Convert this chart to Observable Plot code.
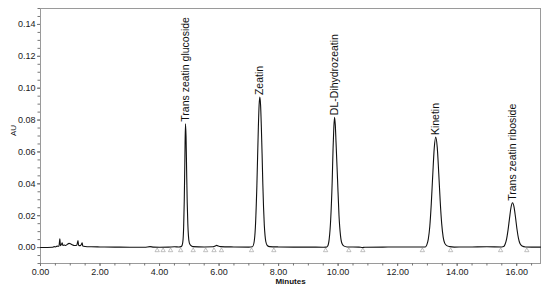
<!DOCTYPE html>
<html><head><meta charset="utf-8">
<script src="https://cdn.jsdelivr.net/npm/d3@7"></script>
<script src="https://cdn.jsdelivr.net/npm/@observablehq/plot@0.6"></script>
<style>body{margin:0;background:#fff}svg{display:block}</style>
</head><body><div id="chart"></div>
<script>
// Retention time (minutes) and absorbance (AU)
const time = [0.00,0.40,0.46,0.50,0.56,0.62,0.65,0.67,0.71,0.73,0.75,0.80,0.84,0.90,0.96,1.02,1.08,1.14,1.22,1.26,1.28,1.34,1.38,1.40,1.42,1.50,1.70,2.00,2.50,3.00,3.50,3.68,3.80,4.00,4.30,4.50,4.65,
  4.72,4.76,4.79,4.81,4.83,4.85,4.87,4.89,4.91,4.93,4.95,4.97,5.00,5.05,5.12,5.50,5.80,5.87,5.92,5.97,6.05,6.50,7.00,
  7.12,7.17,7.22,7.27,7.32,7.345,7.37,7.395,7.42,7.445,7.47,7.495,7.52,7.545,7.57,7.62,7.70,8.00,8.50,9.00,9.50,
  9.60,9.65,9.70,9.75,9.80,9.83,9.855,9.88,9.905,9.93,9.98,10.03,10.08,10.13,10.20,10.30,10.70,10.82,10.90,11.50,12.00,12.50,
  12.93,12.98,13.03,13.08,13.13,13.18,13.23,13.28,13.33,13.38,13.43,13.48,13.53,13.58,13.65,13.75,13.90,14.50,15.00,15.50,
  15.56,15.61,15.66,15.71,15.76,15.81,15.86,15.91,15.96,16.01,16.06,16.11,16.18,16.30,16.50,16.80];
const au = [0,0.0002,0.0006,0.0004,0.0009,0.0008,0.0055,0.0012,0.0022,0.0030,0.0014,0.0016,0.0013,0.0020,0.0026,0.0022,0.0016,0.0013,0.0015,0.0044,0.0013,0.0012,0.0022,0.0030,0.0010,0.0007,0.0005,0.0004,0.0003,0.0002,0.0002,0.0006,0.0003,0.0002,0.0003,0.0005,0.0004,
  0.0006,0.0015,0.0050,0.0130,0.0290,0.0540,0.0777,0.0700,0.0480,0.0280,0.0150,0.0075,0.0030,0.0013,0.0006,0.0004,0.0005,0.0010,0.0014,0.0010,0.0006,0.0004,0.0003,
  0.0005,0.0027,0.0127,0.0387,0.0755,0.0893,0.0944,0.0893,0.0760,0.0590,0.0400,0.0250,0.0140,0.0075,0.0038,0.0013,0.0006,0.0004,0.0003,0.0003,0.0002,
  0.0003,0.0010,0.0053,0.0175,0.0410,0.0620,0.0750,0.0818,0.0770,0.0660,0.0430,0.0200,0.0075,0.0025,0.0009,0.0004,0.0003,0.0000,0.0002,0.0003,0.0004,0.0004,
  0.0004,0.0017,0.0053,0.0132,0.0274,0.0457,0.0624,0.0693,0.0630,0.0470,0.0290,0.0150,0.0065,0.0028,0.0012,0.0006,0.0003,0.0004,0.0005,0.0004,
  0.0006,0.0021,0.0053,0.0111,0.0185,0.0253,0.0281,0.0255,0.0190,0.0115,0.0058,0.0025,0.0010,0.0004,0.0003,0.0003];

// Peak labels
const peakNames = ["Trans zeatin glucoside","Zeatin","DL-Dihydrozeatin","Kinetin","Trans zeatin riboside"];
const peakTimes = [4.87,7.37,9.88,13.28,15.86];
const peakHeights = [0.0777,0.0944,0.0818,0.0693,0.0281];

// Integration markers (small triangles along the baseline)
const markerTimes = [3.92,4.12,4.37,4.71,5.13,5.55,5.83,6.08,7.09,7.84,9.58,10.36,10.83,12.83,13.78,15.46,16.34];

// Axis ticks
const xTicks = [0,2,4,6,8,10,12,14,16];
const yTicks = [0,0.02,0.04,0.06,0.08,0.10,0.12,0.14];
const xMinor = d3.range(0, 16.81, 0.5);
const yMinor = d3.range(-0.01, 0.1501, 0.005);

const trace = time.map((t, i) => ({t, v: au[i]}));
const peaks = peakNames.map((name, i) => ({name, t: peakTimes[i], v: peakHeights[i]}));
const markers = markerTimes.map(t => ({t}));

const chart = Plot.plot({
  width: 545, height: 287,
  marginLeft: 40, marginRight: 5, marginTop: 8, marginBottom: 24,
  style: {fontFamily: "'Liberation Sans', Arial, sans-serif", background: "#fff", color: "#1a1a1a"},
  x: {domain: [0, 16.8]},
  y: {domain: [-0.01, 0.15]},
  marks: [
    Plot.frame({stroke: "#9a9a9a", strokeWidth: 1}),
    Plot.axisX({ticks: xMinor, tickSize: 2.5, tickFormat: () => "", label: null, stroke: "#777"}),
    Plot.axisX({ticks: xTicks, tickSize: 3, tickPadding: 2, tickFormat: d => d.toFixed(2), label: null, fontSize: 9, stroke: "#777"}),
    Plot.axisY({ticks: yMinor, tickSize: 2.5, tickFormat: () => "", label: null, stroke: "#777"}),
    Plot.axisY({ticks: yTicks, tickSize: 3, tickPadding: 2, tickFormat: d => d.toFixed(2), label: null, fontSize: 9, stroke: "#777"}),
    Plot.dot(markers, {x: "t", y: -0.0018, symbol: "triangle", r: 1.6, stroke: "#999", strokeWidth: 0.6, fill: "none"}),
    Plot.line(trace, {x: "t", y: "v", stroke: "#111", strokeWidth: 1.1, curve: "monotone-x"}),
    Plot.text(peaks, {x: "t", y: "v", text: "name", rotate: -90, textAnchor: "start", dy: -2, fontSize: 10.5, fill: "#111"}),
    Plot.text(["Minutes"], {frameAnchor: "bottom", dy: 20.5, text: d => d, fontSize: 8, fontWeight: "bold", fill: "#111"}),
    Plot.text(["AU"], {frameAnchor: "left", dx: -27, rotate: -90, text: d => d, fontSize: 8, fill: "#111"})
  ]
});
document.getElementById("chart").appendChild(chart);
</script>
</body></html>
